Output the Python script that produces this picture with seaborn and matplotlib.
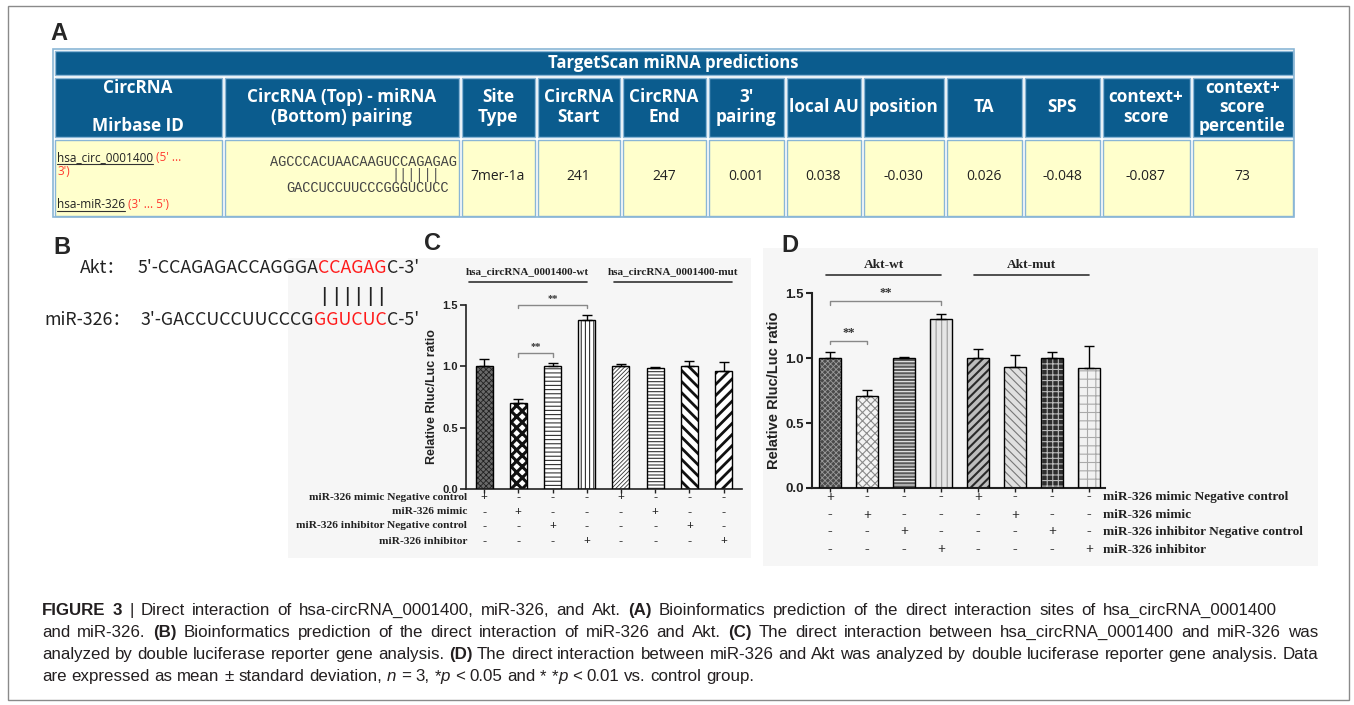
import numpy as np
import pandas as pd
import matplotlib
matplotlib.use("Agg")
import matplotlib.pyplot as plt
import seaborn as sns
from matplotlib.patches import Rectangle
from matplotlib.transforms import blended_transform_factory

# ── data ───────────────────────────────────────────────────
table_title = "TargetScan miRNA predictions"
table_headers = ["CircRNA\n\nMirbase ID", "CircRNA (Top) - miRNA\n(Bottom) pairing",
                 "Site\nType", "CircRNA\nStart", "CircRNA\nEnd", "3'\npairing",
                 "local AU", "position", "TA", "SPS", "context+\nscore",
                 "context+\nscore\npercentile"]
table_values = ["7mer-1a", "241", "247", "0.001", "0.038", "-0.030",
                "0.026", "-0.048", "-0.087", "73"]
circ_id = "hsa_circ_0001400"
mir_id = "hsa-miR-326"
circ_top = "AGCCCACUAACAAGUCCAGAGAG"
mir_bottom = "GACCUCCUUCCCGGGUCUCC"

akt_seq = ["5'-CCAGAGACCAGGGA", "CCAGAG", "C-3'"]
mir_seq = ["3'-GACCUCCUUCCCG", "GGUCUC", "C-5'"]

conditions = ["miR-326 mimic Negative control", "miR-326 mimic",
              "miR-326 inhibitor Negative control", "miR-326 inhibitor"]
bar_condition = [0, 1, 2, 3, 0, 1, 2, 3]   # which row gets "+"

c_groups = ["hsa_circRNA_0001400-wt", "hsa_circRNA_0001400-mut"]
c_mean = [1.00, 0.70, 1.00, 1.38, 1.00, 0.99, 1.00, 0.96]
c_sd = [0.06, 0.037, 0.03, 0.04, 0.02, 0.004, 0.04, 0.075]
c_pairs = [(1, 3, 1.50), (1, 2, 1.105)]

d_groups = ["Akt-wt", "Akt-mut"]
d_mean = [1.00, 0.71, 1.00, 1.30, 1.00, 0.93, 1.00, 0.92]
d_sd = [0.045, 0.045, 0.005, 0.04, 0.07, 0.095, 0.05, 0.17]
d_pairs = [(0, 3, 1.435), (0, 1, 1.13)]

caption = [
    [("FIGURE 3", "b"), (" | Direct interaction of hsa-circRNA_0001400, miR-326, and Akt. ", "n"),
     ("(A)", "b"), (" Bioinformatics prediction of the direct interaction sites of hsa_circRNA_0001400", "n")],
    [("and miR-326. ", "n"), ("(B)", "b"),
     (" Bioinformatics prediction of the direct interaction of miR-326 and Akt. ", "n"),
     ("(C)", "b"), (" The direct interaction between hsa_circRNA_0001400 and miR-326 was", "n")],
    [("analyzed by double luciferase reporter gene analysis. ", "n"), ("(D)", "b"),
     (" The direct interaction between miR-326 and Akt was analyzed by double luciferase reporter gene analysis. Data", "n")],
    [("are expressed as mean ± standard deviation, ", "n"), ("n", "i"), (" = 3, *", "n"), ("p", "i"),
     (" < 0.05 and * *", "n"), ("p", "i"), (" < 0.01 vs. control group.", "n")],
]

# ── setup ──────────────────────────────────────────────────
sns.set_style("white")
plt.rcParams["font.family"] = ["Liberation Sans", "DejaVu Sans"]
W, H = 1354, 705
SANS = ["Liberation Sans", "DejaVu Sans"]
SERIF = ["Liberation Serif", "DejaVu Serif"]
OPEN = ["Open Sans", "DejaVu Sans"]
CJK = ["Noto Sans CJK SC", "DejaVu Sans"]
MONO = ["Liberation Mono", "DejaVu Sans Mono"]

fig = plt.figure(figsize=(W / 100, H / 100), dpi=100)
fig.patch.set_facecolor("white")
bg = fig.add_axes([0, 0, 1, 1])
bg.set_xlim(0, W)
bg.set_ylim(H, 0)
bg.axis("off")
renderer = fig.canvas.get_renderer()


def tw(t):
    return t.get_window_extent(renderer).width


def run_text(x, y, segs, ha="left", va="baseline", **common):
    """draw pieces one after another; segs = [(text, kwargs)]"""
    arts, cur = [], x
    for s, kw in segs:
        opts = dict(common)
        opts.update(kw)
        t = bg.text(cur, y, s, ha="left", va=va, **opts)
        w = tw(t)
        arts.append([t, cur, w])
        cur += w
    if ha == "right":
        shift = x - cur
        for a in arts:
            a[0].set_x(a[1] + shift)
            a[1] += shift
    return arts


def px_axes(x0, y0, x1, y1):
    return fig.add_axes([x0 / W, 1 - y1 / H, (x1 - x0) / W, (y1 - y0) / H])


# outer frame + panel backgrounds
bg.add_patch(Rectangle((8, 6), 1341, 694, fill=False, ec="#8a8a8a", lw=1))
bg.add_patch(Rectangle((288, 258), 463, 300, fc="#f6f6f6", ec="none"))
bg.add_patch(Rectangle((763, 248), 555, 318, fc="#f6f6f6", ec="none"))

for lab, (lx, ly) in zip("ABCD", [(50, 34), (53, 247), (424, 243), (781, 245)]):
    bg.text(lx, ly, lab, fontsize=17, fontweight="bold", va="center", family=SANS)

# ── A: table ───────────────────────────────────────────────
col_edges = [53, 223, 460, 536, 621, 707, 785, 862, 945, 1023, 1101, 1191, 1294]
row_edges = [49, 76, 138, 217]
BLUE, YEL, LINE = "#0b5c8e", "#ffffcc", "#8ab6d6"
bg.add_patch(Rectangle((53, 49), 1241, 168, fc="white", ec=LINE, lw=1.2))


def cell(x0, x1, y0, y1, fc):
    bg.add_patch(Rectangle((x0 + 1.5, y0 + 1.5), x1 - x0 - 3, y1 - y0 - 3, fc=fc, ec=LINE, lw=1))


cell(col_edges[0], col_edges[-1], row_edges[0], row_edges[1], BLUE)
bg.text((col_edges[0] + col_edges[-1]) / 2, 63, table_title, ha="center", va="center",
        color="white", fontsize=12, fontweight="bold", family=OPEN)
for i, head in enumerate(table_headers):
    x0, x1 = col_edges[i], col_edges[i + 1]
    cell(x0, x1, row_edges[1], row_edges[2], BLUE)
    cell(x0, x1, row_edges[2], row_edges[3], YEL)
    bg.text((x0 + x1) / 2, 107, head, ha="center", va="center", color="white",
            fontsize=12.3, fontweight="bold", family=OPEN, linespacing=1.1)
for k, val in enumerate(table_values):
    x0, x1 = col_edges[k + 2], col_edges[k + 3]
    bg.text((x0 + x1) / 2, 177, val, ha="center", va="center", color="#222222",
            fontsize=10, family=OPEN)

# circRNA / miRNA ids
RED = "#ff3b30"
for y, pieces in [(161, [(circ_id, {}), (" ", {}), ("(5' ...", {"color": RED})]),
                  (208, [(mir_id, {}), (" ", {}), ("(3' ... 5')", {"color": RED})])]:
    arts = run_text(57, y, pieces, fontsize=8.5, family=OPEN, color="#222222")
    t, x, w = arts[0]
    bg.plot([x, x + w], [y + 2.5, y + 2.5], color="#333333", lw=0.8)
bg.text(57, 175, "3')", ha="left", va="baseline", fontsize=8.5, family=OPEN, color=RED)

# pairing column (monospace)
t_top = bg.text(270, 162, circ_top, ha="left", va="center", fontsize=9.8, family=MONO,
                color="#444444")
adv = tw(t_top) / len(circ_top)
bg.text(270 + 15 * adv, 175, "||||||", ha="left", va="center", fontsize=9.8,
        family=MONO, color="#555555")
bg.text(270 + 2 * adv, 188, mir_bottom, ha="left", va="center", fontsize=9.8,
        family=MONO, color="#444444")

# ── B: sequences ───────────────────────────────────────────
bg.text(80, 268, "Akt：", ha="left", va="center", fontsize=12.8, family=CJK, color="#222222")
bg.text(44, 320, "miR-326：", ha="left", va="center", fontsize=12.8, family=CJK, color="#222222")
seq_kw = dict(fontsize=12.8, family=CJK, color="#222222")
akt_arts = run_text(419, 268, [(akt_seq[0], {}), (akt_seq[1], {"color": "#ff1a1a"}),
                               (akt_seq[2], {})], ha="right", va="center", **seq_kw)
run_text(419, 320, [(mir_seq[0], {}), (mir_seq[1], {"color": "#ff1a1a"}),
                    (mir_seq[2], {})], ha="right", va="center", **seq_kw)
t_red, xr, wr = akt_arts[1]
step = wr / len(akt_seq[1])
for k in range(len(akt_seq[1])):
    bg.text(xr + step * (k + 0.5), 297, "|", ha="center", va="center", fontsize=15,
            family=SANS, color="#222222")


# ── C and D: bar charts ────────────────────────────────────
def bar_panel(ax, means, sds, styles, width, xlim, rows_y, label_x, label_ha,
              groups, group_spans, group_y, pairs, fs, lab_fs, grp_fs, spine_w):
    n = len(means)
    df = pd.DataFrame({"bar": [f"b{i}" for i in range(n)], "mean": means})
    sns.barplot(data=df, x="bar", y="mean", hue="bar", palette=["white"] * n,
                legend=False, width=width, errorbar=None, ax=ax)
    bars = sorted(ax.patches, key=lambda p: p.get_x())
    for p, (fc, hatch, hc, hlw) in zip(bars, styles):
        p.set_facecolor(fc)
        p.set_hatch(hatch)
        p.set_edgecolor(hc)
        p.set_linewidth(0)
        if hasattr(p, "set_hatch_linewidth"):
            p.set_hatch_linewidth(hlw)
    xs = np.arange(n)
    ax.bar(xs, means, width=width, fill=False, edgecolor="black", lw=1.0, zorder=3)
    ax.errorbar(xs, means, yerr=[np.zeros(n), sds], fmt="none", ecolor="black",
                elinewidth=1.0, capsize=3.5, capthick=1.0, zorder=4)
    ax.set_xlim(*xlim)
    ax.set_ylim(0, 1.5)
    ax.set_facecolor("none")
    for s in ["top", "right"]:
        ax.spines[s].set_visible(False)
    for s in ["left", "bottom"]:
        ax.spines[s].set_linewidth(spine_w)
        ax.spines[s].set_color("#222222")
    ax.set_yticks([0, 0.5, 1.0, 1.5])
    ax.set_yticklabels(["0.0", "0.5", "1.0", "1.5"], fontweight="bold", fontsize=fs + 0.5)
    ax.set_xticks(xs)
    ax.set_xticklabels([])
    ax.set_xlabel("")
    ax.tick_params(axis="y", left=True, length=4, width=spine_w, pad=2, colors="#222222")
    ax.tick_params(axis="x", bottom=True, length=3, width=1, colors="#222222")
    ax.set_ylabel("Relative Rluc/Luc ratio", fontsize=fs + 1.5, fontweight="bold",
                  labelpad=3, color="#222222")
    tr = blended_transform_factory(ax.transData, bg.transData)
    for r, y in enumerate(rows_y):
        for i in xs:
            bg.text(i, y, "+" if bar_condition[i] == r else "-", transform=tr,
                    ha="center", va="center", fontsize=lab_fs + 0.5, fontweight="bold",
                    family=SERIF, color="#222222")
        bg.text(label_x, y, conditions[r], ha=label_ha, va="center", fontsize=lab_fs,
                fontweight="bold", family=SERIF, color="#222222")
    for g, (a, b) in zip(groups, group_spans):
        bg.plot([a, b], [group_y + 10, group_y + 10], transform=tr, color="#333333", lw=1.2)
        bg.text((a + b) / 2, group_y, g, transform=tr, ha="center", va="center",
                fontsize=grp_fs, fontweight="bold", family=SERIF, color="#222222")
    for i, j, y in pairs:
        ax.plot([i, i, j, j], [y - 0.025, y, y, y - 0.025], color="#888888", lw=1,
                clip_on=False)
        ax.text((i + j) / 2, y + 0.02, "**", ha="center", va="bottom", fontsize=fs,
                fontweight="bold", family=SERIF, color="#333333")


c_styles = [("#6a6a6a", "xxxxxx", "#222222", 0.6), ("white", "xxx", "#111111", 2.2),
            ("white", "----", "#333333", 0.8), ("white", "||||", "#333333", 0.8),
            ("white", "////////", "#333333", 0.6), ("white", "-----", "#333333", 0.8),
            ("white", "\\\\\\", "#111111", 2.0), ("white", "///", "#111111", 2.0)]
d_styles = [("#4a4a4a", "xxxxxx", "#9a9a9a", 0.6), ("#f4f4f4", "xxxx", "#8a8a8a", 0.8),
            ("#5a5a5a", "-----", "#eeeeee", 0.8), ("#e6e6e6", "|||", "#9a9a9a", 0.8),
            ("#bdbdbd", "////", "#2a2a2a", 1.5), ("#e0e0e0", "\\\\\\\\", "#777777", 0.8),
            ("#2e2e2e", "+++", "#bbbbbb", 0.8), ("#f2f2f2", "++", "#aaaaaa", 0.8)]

axc = px_axes(466, 305, 742, 489)
bar_panel(axc, c_mean, c_sd, c_styles, 0.5, (-0.53, 7.54), [497, 512, 526, 541],
          467, "right", c_groups, [(-0.45, 3.0), (3.8, 7.25)], 272, c_pairs,
          7.5, 8.2, 8.0, 1.2)

axd = px_axes(812, 293, 1105, 488)
bar_panel(axd, d_mean, d_sd, d_styles, 0.6, (-0.49, 7.43), [497, 515, 532, 550],
          1103, "left", d_groups, [(-0.1, 3.0), (3.9, 7.0)], 265, d_pairs,
          9, 9.6, 9.6, 1.5)

# ── caption ────────────────────────────────────────────────
cap_kw = {"n": {}, "b": {"fontweight": "bold"}, "i": {"style": "italic"}}
probe = bg.text(0, -50, "".join(s for s, _ in caption[2]), fontsize=11, family=SANS)
cap_fs = 11 * 1262 / tw(probe)
probe.remove()
probe1 = bg.text(0, -50, "x x", fontsize=cap_fs, family=SANS)
probe2 = bg.text(0, -50, "xx", fontsize=cap_fs, family=SANS)
space_w = tw(probe1) - tw(probe2)
probe1.remove()
probe2.remove()
cap_targets = [1277, 1318, 1318, None]
for li, (segs, right) in enumerate(zip(caption, cap_targets)):
    y = 615 + 22 * li
    words = [[]]
    for text, st in segs:
        parts = text.split(" ")
        for k, p in enumerate(parts):
            if k > 0:
                words.append([])
            if p:
                words[-1].append((p, st))
    words = [w for w in words if w]
    drawn = []
    for w in words:
        arts = run_text(0, y, [(p, cap_kw[st]) for p, st in w], fontsize=cap_fs,
                        family=SANS, color="#231f20")
        drawn.append((arts, sum(a[2] for a in arts)))
    total = sum(d[1] for d in drawn)
    gap = space_w if right is None else (right - 42 - total) / (len(drawn) - 1)
    x = 42
    for arts, wsum in drawn:
        for a in arts:
            a[0].set_x(x + a[1])
        x += wsum + gap

fig.savefig("out.png", dpi=100, facecolor="white")
